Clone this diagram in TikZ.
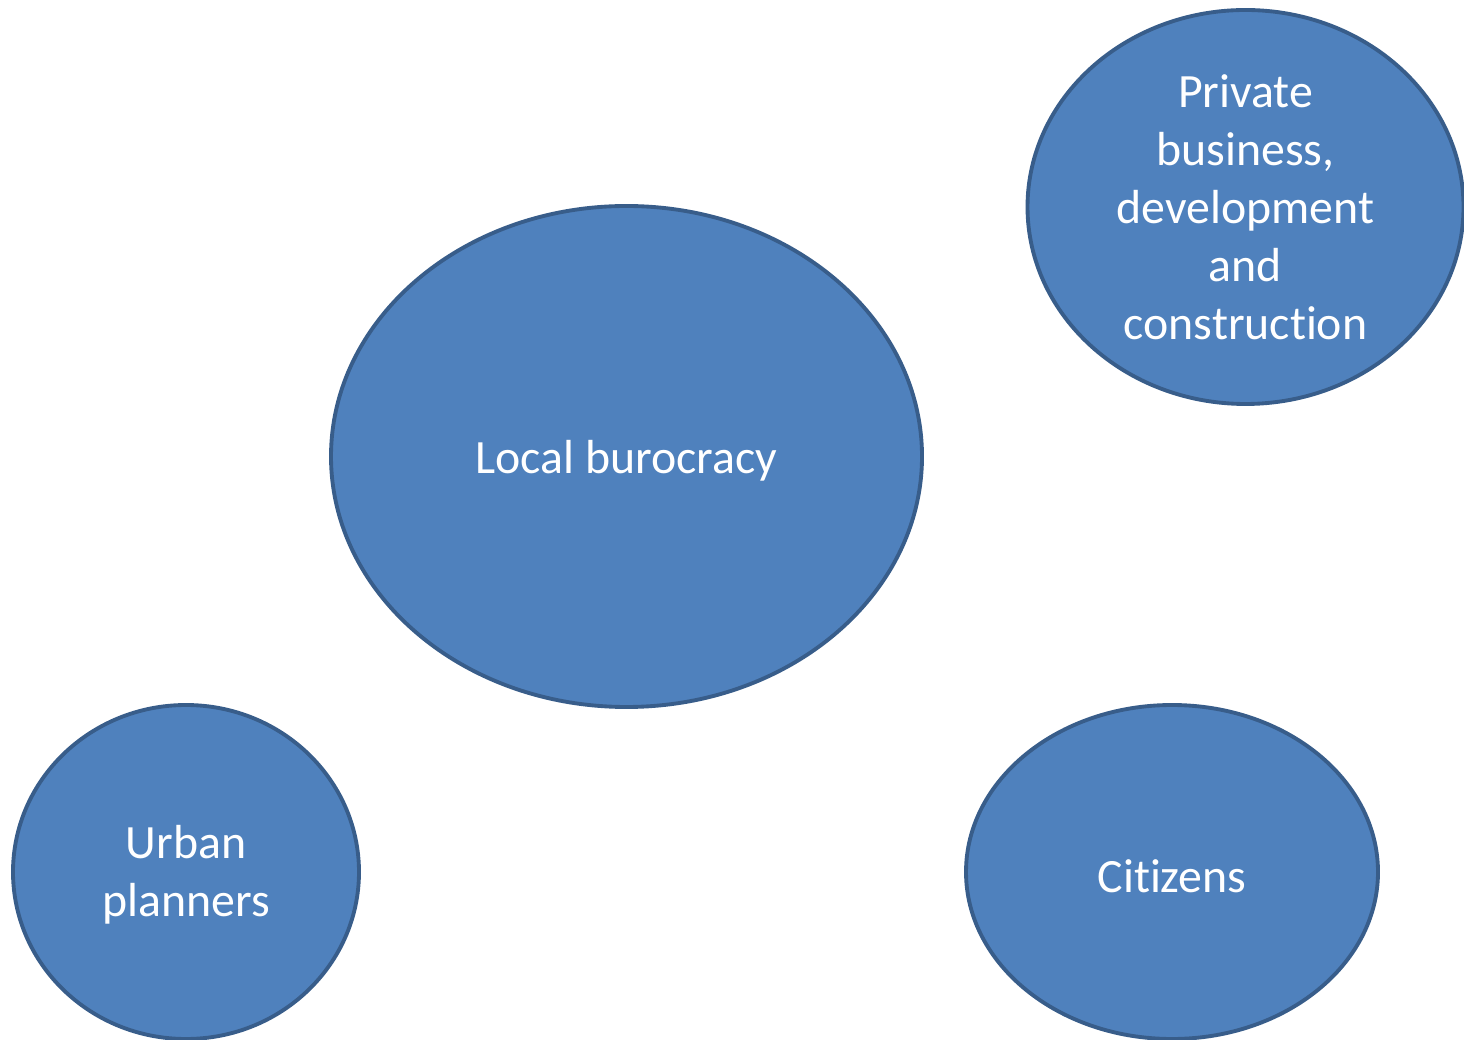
\documentclass[tikz,border=0pt]{standalone}
\usepackage{fontspec}
\setmainfont[RawFeature={-liga;-clig;-calt;-dlig}]{Carlito}
\usetikzlibrary{shapes.geometric}
\definecolor{bubblefill}{HTML}{4F81BD}
\definecolor{bubbleline}{HTML}{385D8A}
\tikzset{
  bubble/.style={ellipse, fill=bubblefill, draw=bubbleline, line width=1.1pt,
    inner sep=0pt, align=center, text=white,
    font=\fontsize{13.6pt}{16.5pt}\selectfont}
}
% lower a label a little while keeping its box size, so the node stays centred
\newcommand{\lowered}[1]{\raisebox{-1.2pt}[\height][\depth]{#1}}
% keep "t" and "i" as separate glyphs
\newcommand{\ti}{t\kern0pt i}
\begin{document}
\begin{tikzpicture}
\useasboundingbox (0,0) rectangle (14.64,10.39);
\clip (0,0) rectangle (14.64,10.39);
\fill[white] (0,0) rectangle (14.64,10.39);
% the four actors
\node[bubble, minimum width=5.91cm, minimum height=5.01cm] (bureau) at (6.265,5.825) {\lowered{Local burocracy}};
\node[bubble, minimum width=4.36cm, minimum height=3.94cm] (business) at (12.455,8.32)
  {Private\\business,\\development\\and\\construc\ti on};
\node[bubble, minimum width=3.46cm, minimum height=3.34cm] (planners) at (1.86,1.67)
  {\lowered{\begin{tabular}{@{}c@{}}Urban\\planners\end{tabular}}};
\node[bubble, minimum width=4.12cm, minimum height=3.34cm] (citizens) at (11.72,1.67) {\lowered{Ci\ti zens}};
\end{tikzpicture}
\end{document}
